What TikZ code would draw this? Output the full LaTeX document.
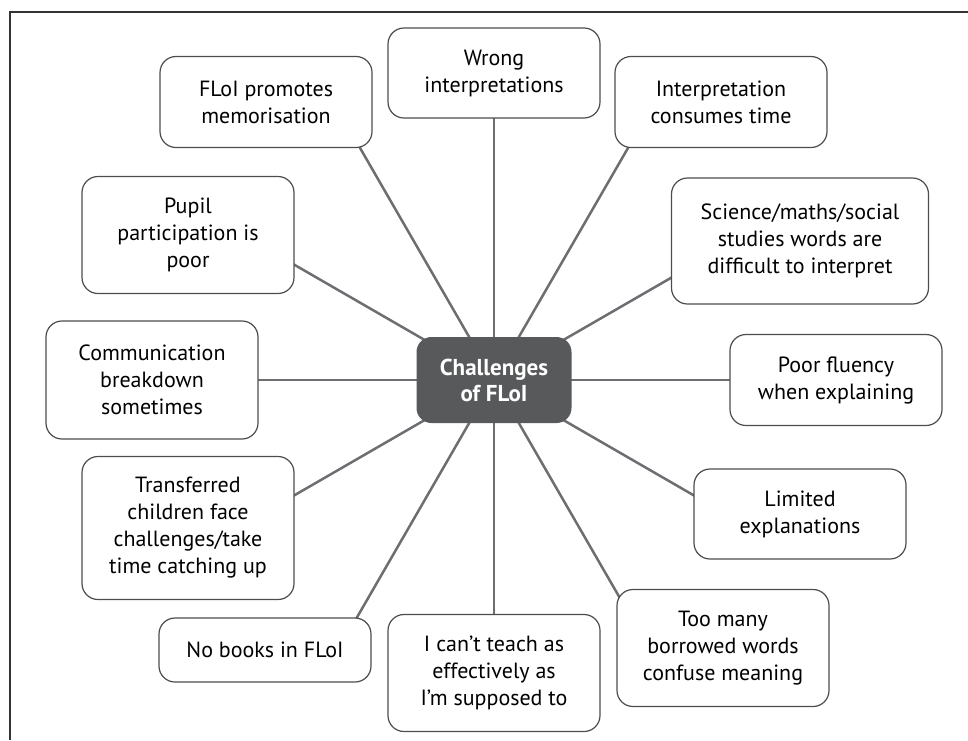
\documentclass[tikz,border=0pt]{standalone}
\usepackage{fontspec}
\setmainfont{PT Sans}
\usetikzlibrary{backgrounds}
\definecolor{hubgray}{HTML}{58595B}
\definecolor{spokegray}{HTML}{6D6E71}
\definecolor{boxline}{HTML}{4D4D4F}

\begin{document}
\begin{tikzpicture}[x=1pt, y=-1pt,
  challenge/.style={draw=boxline, line width=1.2pt, fill=white, rounded corners=16pt,
    align=center, minimum width=212pt, font=\fontsize{22}{27}\selectfont},
  hubnode/.style={fill=hubgray, rounded corners=15pt, text=white, align=center,
    minimum width=155pt, minimum height=86pt, font=\fontsize{23}{26}\selectfont\bfseries},
  spoke/.style={draw=spokegray, line width=2.5pt}]
\useasboundingbox (0,0) rectangle (968,740);
% frame, only top and left edges show
\draw[line width=1.5pt, black!80] (968,12) -- (10,12) -- (10,740);

% centre
\node[hubnode] (hub) at (494,380) {Challenges\\of FLoI};

% challenges round the centre
\node[challenge, minimum height=91] (promote) at (266,102) {FLoI promotes\\memorisation};
\node[challenge, minimum height=90] (wrong) at (494,73) {Wrong\\interpretations};
\node[challenge, minimum height=91] (consume) at (721,102) {Interpretation\\consumes time};
\node[challenge, minimum height=117] (pupil) at (188,235) {Pupil\\participation is\\poor};
\node[challenge, minimum width=257, minimum height=126] (science) at (800,241) {Science/maths/social\\studies words are\\difficult to interpret};
\node[challenge, minimum height=118] (comm) at (152,380) {Communication\\breakdown\\sometimes};
\node[challenge, minimum height=91] (fluency) at (836,380) {Poor fluency\\when explaining};
\node[challenge, minimum height=143] (transfer) at (188,528) {Transferred\\children face\\challenges/take\\time catching up};
\node[challenge, minimum height=90] (limited) at (800,514) {Limited\\explanations};
\node[challenge, minimum height=64] (nobooks) at (265,650) {No books in FLoI};
\node[challenge, minimum height=117] (teach) at (494,673) {I can’t teach as\\effectively as\\I’m supposed to};
\node[challenge, minimum height=117] (toomany) at (723,648) {Too many\\borrowed words\\confuse meaning};

% spokes, every 30 degrees
\begin{scope}[on background layer]
\foreach \n/\ang in {promote/120, consume/60, pupil/150, science/30,
                     transfer/210, limited/330, nobooks/240, toomany/300}
  \draw[spoke] (hub.center) -- (intersection of \n.west--\n.east and hub.center--hub.\ang);
\foreach \n in {wrong, comm, fluency, teach}
  \draw[spoke] (hub.center) -- (\n.center);
\end{scope}
\end{tikzpicture}
\end{document}
